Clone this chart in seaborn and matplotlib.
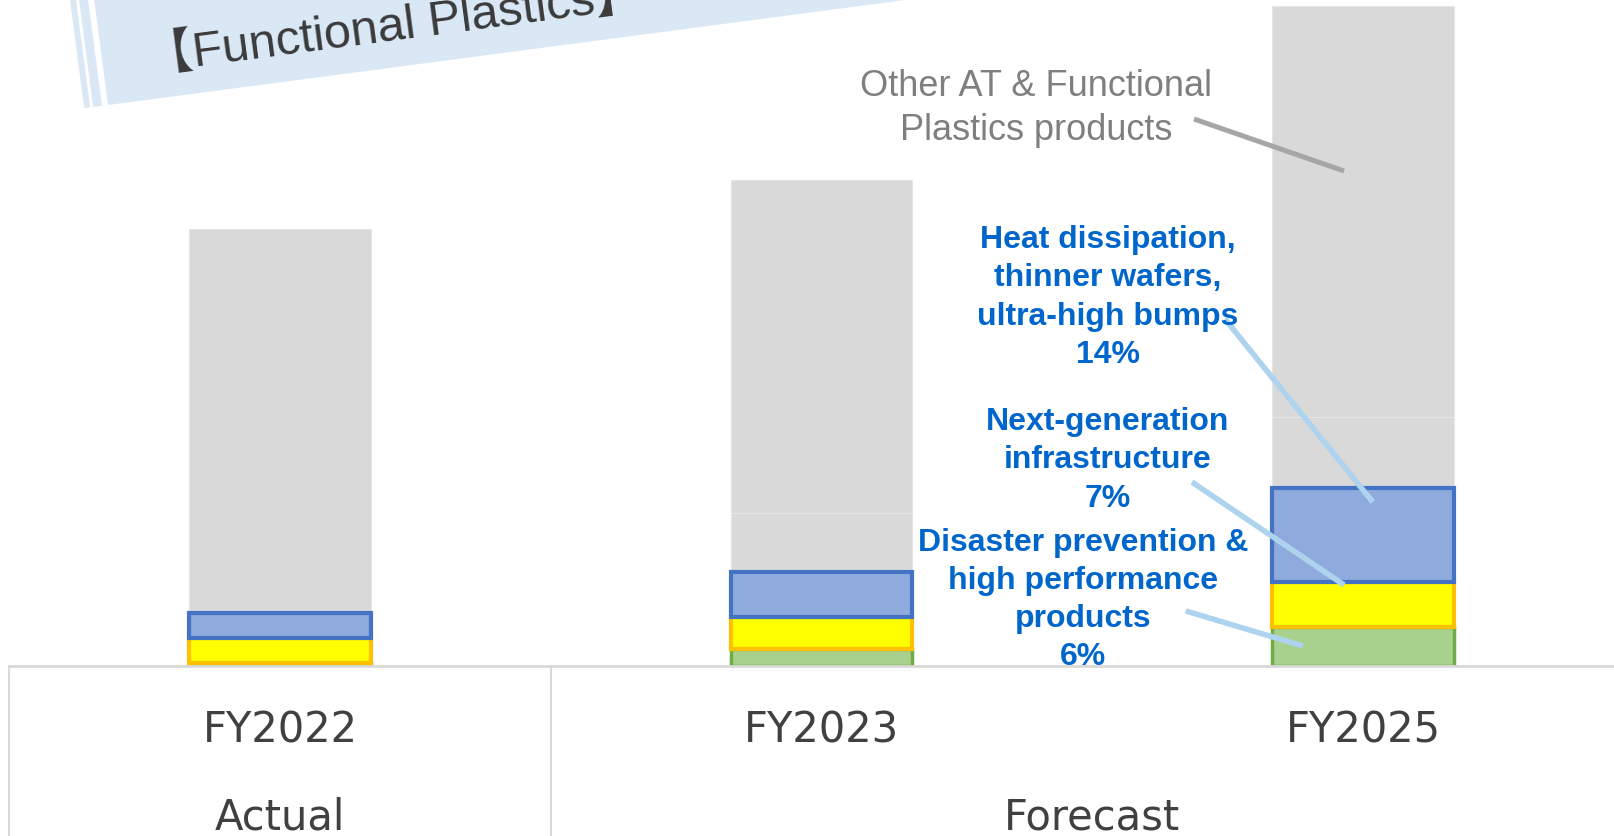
import matplotlib
matplotlib.use('Agg')

import numpy as np
import matplotlib.pyplot as plt
import seaborn as sns

# ------------------------------------------------------------------------
# data (index units)
# ------------------------------------------------------------------------

years = ["FY2022", "FY2023", "FY2025"]
periods = ["Actual", "Forecast"]
disaster = [0.3, 1.7, 3.9]        # green
next_gen = [2.5, 3.2, 4.5]        # yellow
heat = [2.5, 4.5, 9.4]            # blue
other_lower = [0.0, 5.9, 7.1]     # grey
other_upper = [38.4, 33.3, 41.1]  # grey

# ------------------------------------------------------------------------
# style
# ------------------------------------------------------------------------

sns.set_style("white")
plt.rcParams['font.family'] = ['Liberation Sans', 'DejaVu Sans']

W, H = 1614, 836
fig = plt.figure(figsize=(W / 100, H / 100), dpi=100)
base_px = 666
ax = fig.add_axes([0, (H - base_px) / H, 1, base_px / H])

# stacked segments, drawn bottom-up
segments = [
    (disaster, "#A9D18E", "#70AD47", 2.5, 3),
    (next_gen, "#FFFF00", "#FFC000", 3.0, 4),
    (heat, "#8FAADC", "#4472C4", 3.0, 5),
    (other_lower, "#D9D9D9", "#E6E6E6", 0.8, 1),
    (other_upper, "#D9D9D9", "#E6E6E6", 0.8, 1),
]
bottom = np.zeros(len(years))
for vals, fc, ec, lw, z in segments:
    sns.barplot(x=years, y=vals, bottom=bottom.copy(), color=fc,
                edgecolor=ec, linewidth=lw, width=0.336, errorbar=None,
                ax=ax, zorder=z, saturation=1)
    bottom += np.array(vals)

ax.set_xlim(-280 / 541.5, (W - 280) / 541.5)
ax.set_ylim(0, 66.6)
ax.set_yticks([])
ax.set_ylabel("")
for s in ax.spines.values():
    s.set_visible(False)
ax.set_xticks(range(len(years)))
ax.set_xticklabels(years, fontsize=30, color="#404040", family="DejaVu Sans")
ax.tick_params(axis='x', length=0, pad=31.5)

# category table lines
xt = ax.get_xaxis_transform()
ax.plot([-0.5, 3], [0, 0], color="#D9D9D9", lw=2, clip_on=False, zorder=6)
for xv in [-0.5, 0.5]:
    ax.plot([xv, xv], [0, -0.3], transform=xt, color="#D9D9D9", lw=1.5,
            clip_on=False)
for lab, xv in zip(periods, [0, 1.5]):
    ax.text(xv, -0.227, lab, transform=xt, ha="center", va="center",
            fontsize=30, color="#404040", family="DejaVu Sans")

# ------------------------------------------------------------------------
# annotations
# ------------------------------------------------------------------------

ax.text(1.396, 55.75, "Other AT & Functional\nPlastics products", ha="center",
        va="center", fontsize=26, color="#7F7F7F", linespacing=1.30)
ax.plot([1.688, 1.965], [54.7, 49.5], color="#A6A6A6", lw=3.6,
        solid_capstyle="butt", zorder=7)

blue_txt = dict(ha="center", va="center", fontsize=23, color="#0066CC",
                fontweight="bold", linespacing=1.36, zorder=8)
lead = dict(color="#ADD3EE", lw=4, solid_capstyle="butt", zorder=7,
            clip_on=False)
ax.text(1.529, 36.85, "Heat dissipation,\nthinner wafers,\nultra-high bumps\n14%",
        **blue_txt)
ax.plot([1.745, 2.018], [34.7, 16.4], **lead)
ax.text(1.529, 20.55, "Next-generation\ninfrastructure\n7%", **blue_txt)
ax.plot([1.684, 1.965], [18.4, 8.1], **lead)
ax.text(1.483, 6.6, "Disaster prevention &\nhigh performance\nproducts\n6%",
        **blue_txt)
ax.plot([1.673, 1.889], [5.5, 2.0], **lead)

# ------------------------------------------------------------------------
# title banner (pixel overlay)
# ------------------------------------------------------------------------

ov = fig.add_axes([0, 0, 1, 1], zorder=10)
ov.set_xlim(0, W)
ov.set_ylim(H, 0)
ov.axis("off")
ov.patch.set_visible(False)

th = np.deg2rad(7.5)
u = np.array([np.cos(th), -np.sin(th)])
v = np.array([-np.sin(th), -np.cos(th)])
p0 = np.array([108.0, 105.0])
band = "#DAE8F5"


def quad(a, b, h):
    pts = [p0 + a * u, p0 + b * u, p0 + b * u + h * v, p0 + a * u + h * v]
    ov.add_patch(plt.Polygon(pts, closed=True, color=band, lw=0))


quad(0, 1200, 220)
quad(-15, -6, 220)
quad(-24, -18, 220)

ov.text(146, 73, "【Functional Plastics】", rotation=7.5, rotation_mode="anchor",
        ha="left", va="baseline", fontsize=35, color="#3A3A3A",
        family=["Liberation Sans", "Noto Sans CJK JP"])

fig.savefig("out.png", dpi=100)
